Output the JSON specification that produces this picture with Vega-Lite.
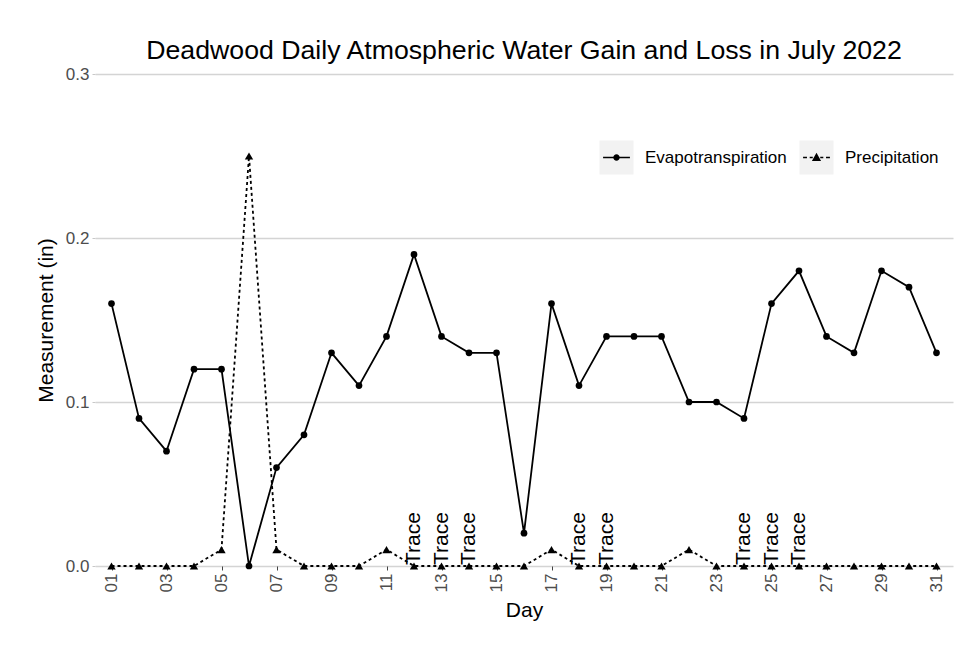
{
  "$schema": "https://vega.github.io/schema/vega-lite/v6.json",
  "width": 858,
  "height": 492,
  "autosize": "none",
  "padding": {"left": 95, "top": 74, "right": 11, "bottom": 90},
  "background": "white",
  "title": {
    "text": "Deadwood Daily Atmospheric Water Gain and Loss in July 2022",
    "fontSize": 26.7,
    "font": "Liberation Sans",
    "fontWeight": "normal",
    "color": "black",
    "anchor": "middle",
    "frame": "group",
    "offset": 0
  },
  "datasets": {
    "obs": [
      {"day": "01", "series": "Evapotranspiration", "value": 0.16},
      {"day": "02", "series": "Evapotranspiration", "value": 0.09},
      {"day": "03", "series": "Evapotranspiration", "value": 0.07},
      {"day": "04", "series": "Evapotranspiration", "value": 0.12},
      {"day": "05", "series": "Evapotranspiration", "value": 0.12},
      {"day": "06", "series": "Evapotranspiration", "value": 0.0},
      {"day": "07", "series": "Evapotranspiration", "value": 0.06},
      {"day": "08", "series": "Evapotranspiration", "value": 0.08},
      {"day": "09", "series": "Evapotranspiration", "value": 0.13},
      {"day": "10", "series": "Evapotranspiration", "value": 0.11},
      {"day": "11", "series": "Evapotranspiration", "value": 0.14},
      {"day": "12", "series": "Evapotranspiration", "value": 0.19},
      {"day": "13", "series": "Evapotranspiration", "value": 0.14},
      {"day": "14", "series": "Evapotranspiration", "value": 0.13},
      {"day": "15", "series": "Evapotranspiration", "value": 0.13},
      {"day": "16", "series": "Evapotranspiration", "value": 0.02},
      {"day": "17", "series": "Evapotranspiration", "value": 0.16},
      {"day": "18", "series": "Evapotranspiration", "value": 0.11},
      {"day": "19", "series": "Evapotranspiration", "value": 0.14},
      {"day": "20", "series": "Evapotranspiration", "value": 0.14},
      {"day": "21", "series": "Evapotranspiration", "value": 0.14},
      {"day": "22", "series": "Evapotranspiration", "value": 0.10},
      {"day": "23", "series": "Evapotranspiration", "value": 0.10},
      {"day": "24", "series": "Evapotranspiration", "value": 0.09},
      {"day": "25", "series": "Evapotranspiration", "value": 0.16},
      {"day": "26", "series": "Evapotranspiration", "value": 0.18},
      {"day": "27", "series": "Evapotranspiration", "value": 0.14},
      {"day": "28", "series": "Evapotranspiration", "value": 0.13},
      {"day": "29", "series": "Evapotranspiration", "value": 0.18},
      {"day": "30", "series": "Evapotranspiration", "value": 0.17},
      {"day": "31", "series": "Evapotranspiration", "value": 0.13},
      {"day": "01", "series": "Precipitation", "value": 0},
      {"day": "02", "series": "Precipitation", "value": 0},
      {"day": "03", "series": "Precipitation", "value": 0},
      {"day": "04", "series": "Precipitation", "value": 0},
      {"day": "05", "series": "Precipitation", "value": 0.01},
      {"day": "06", "series": "Precipitation", "value": 0.25},
      {"day": "07", "series": "Precipitation", "value": 0.01},
      {"day": "08", "series": "Precipitation", "value": 0},
      {"day": "09", "series": "Precipitation", "value": 0},
      {"day": "10", "series": "Precipitation", "value": 0},
      {"day": "11", "series": "Precipitation", "value": 0.01},
      {"day": "12", "series": "Precipitation", "value": 0, "note": "Trace"},
      {"day": "13", "series": "Precipitation", "value": 0, "note": "Trace"},
      {"day": "14", "series": "Precipitation", "value": 0, "note": "Trace"},
      {"day": "15", "series": "Precipitation", "value": 0},
      {"day": "16", "series": "Precipitation", "value": 0},
      {"day": "17", "series": "Precipitation", "value": 0.01},
      {"day": "18", "series": "Precipitation", "value": 0, "note": "Trace"},
      {"day": "19", "series": "Precipitation", "value": 0, "note": "Trace"},
      {"day": "20", "series": "Precipitation", "value": 0},
      {"day": "21", "series": "Precipitation", "value": 0},
      {"day": "22", "series": "Precipitation", "value": 0.01},
      {"day": "23", "series": "Precipitation", "value": 0},
      {"day": "24", "series": "Precipitation", "value": 0, "note": "Trace"},
      {"day": "25", "series": "Precipitation", "value": 0, "note": "Trace"},
      {"day": "26", "series": "Precipitation", "value": 0, "note": "Trace"},
      {"day": "27", "series": "Precipitation", "value": 0},
      {"day": "28", "series": "Precipitation", "value": 0},
      {"day": "29", "series": "Precipitation", "value": 0},
      {"day": "30", "series": "Precipitation", "value": 0},
      {"day": "31", "series": "Precipitation", "value": 0}
    ]
  },
  "data": {"name": "obs"},
  "encoding": {
    "x": {
      "field": "day",
      "type": "ordinal",
      "scale": {"type": "point", "padding": 0.6},
      "axis": {
        "title": "Day",
        "values": ["01","03","05","07","09","11","13","15","17","19","21","23","25","27","29","31"],
        "labelAngle": 270,
        "labelFontSize": 17,
        "labelColor": "#4d4d4d",
        "labelPadding": 3,
        "tickSize": 4,
        "tickColor": "#444444",
        "domain": false,
        "grid": false,
        "titleFontSize": 21,
        "titlePadding": 8
      }
    },
    "y": {
      "field": "value",
      "type": "quantitative",
      "scale": {"domain": [0, 0.3], "nice": false},
      "axis": {
        "title": "Measurement (in)",
        "values": [0, 0.1, 0.2, 0.3],
        "format": ".1f",
        "labelFontSize": 17,
        "labelColor": "#4d4d4d",
        "labelPadding": 3,
        "tickSize": 3,
        "tickColor": "#c8c8c8",
        "domain": false,
        "grid": true,
        "gridColor": "#d4d4d4",
        "gridWidth": 1.5,
        "titleFontSize": 21,
        "titlePadding": 9
      }
    }
  },
  "layer": [
    {
      "mark": {"type": "point", "filled": true, "opacity": 0, "size": 10},
      "encoding": {
        "color": {
          "field": "series",
          "type": "nominal",
          "scale": {"domain": ["Evapotranspiration", "Precipitation"], "range": ["#f2f2f2", "#f2f2f2"]},
          "legend": {
            "title": null,
            "orient": "none",
            "legendX": 504.5,
            "legendY": 66.5,
            "direction": "horizontal",
            "symbolType": "square",
            "symbolSize": 1156,
            "symbolStrokeWidth": 0,
            "symbolOpacity": 1,
            "labelFontSize": 17,
            "labelFont": "Liberation Sans",
            "labelExpr": "''",
            "labelOffset": 0,
            "columnPadding": 166,
            "padding": 0
          }
        }
      }
    },
    {
      "transform": [{"filter": "datum.series === 'Evapotranspiration'"}],
      "mark": {"type": "line", "color": "black", "strokeWidth": 1.8},
      "encoding": {}
    },
    {
      "transform": [{"filter": "datum.series === 'Precipitation'"}],
      "mark": {"type": "line", "color": "black", "strokeWidth": 1.8, "strokeDash": [3, 3]},
      "encoding": {}
    },
    {
      "transform": [{"filter": "datum.series === 'Evapotranspiration'"}],
      "mark": {"type": "point", "filled": true, "color": "black", "opacity": 1, "size": 45, "shape": "circle"},
      "encoding": {}
    },
    {
      "transform": [{"filter": "datum.series === 'Precipitation'"}],
      "mark": {"type": "point", "filled": true, "color": "black", "opacity": 1, "size": 70, "shape": "triangle-up"},
      "encoding": {}
    },
    {
      "mark": {"type": "point", "filled": true, "color": "black", "opacity": 0, "size": 10},
      "encoding": {
        "shape": {
          "field": "series",
          "type": "nominal",
          "scale": {"range": [
            "M-0.79,-0.045H-0.15V0.045H-0.79Z M0.15,-0.045H0.79V0.045H0.15Z M-0.19,0A0.19,0.19 0 1,1 0.19,0A0.19,0.19 0 1,1 -0.19,0Z",
            "M-0.79,-0.045H-0.56V0.045H-0.79Z M-0.4,-0.045H-0.22V0.045H-0.4Z M0.22,-0.045H0.4V0.045H0.22Z M0.56,-0.045H0.79V0.045H0.56Z M-0.27,0.2L0,-0.28L0.27,0.2Z"
          ]},
          "legend": {
            "title": null,
            "orient": "none",
            "legendX": 504.5,
            "legendY": 66.5,
            "direction": "horizontal",
            "labelFontSize": 17,
            "labelFont": "Liberation Sans",
            "labelColor": "black",
            "symbolSize": 1156,
            "symbolFillColor": "black",
            "symbolStrokeColor": "black",
            "symbolStrokeWidth": 0,
            "symbolOpacity": 1,
            "labelOffset": 11.5,
            "columnPadding": 12,
            "padding": 0
          }
        }
      }
    },
    {
      "transform": [{"filter": "datum.note"}],
      "mark": {"type": "text", "angle": 270, "align": "left", "baseline": "middle", "dx": 1, "fontSize": 21, "font": "Liberation Sans", "color": "black"},
      "encoding": {"text": {"field": "note", "type": "nominal"}}
    }
  ],
  "resolve": {"legend": {"color": "independent", "shape": "independent"}},
  "config": {
    "font": "Liberation Sans",
    "view": {"stroke": null},
    "axis": {"labelFont": "Liberation Sans", "titleFont": "Liberation Sans", "titleFontWeight": "normal", "titleColor": "black"}
  }
}
